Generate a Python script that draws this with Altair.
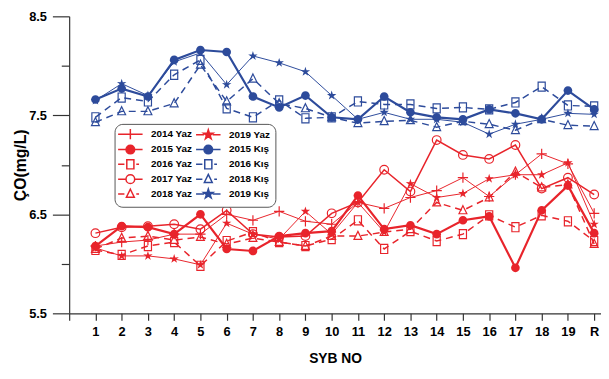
import json
import altair as alt
import pandas as pd

# ---------------- data ----------------
positions = list(range(1, 21))
tick_labels = [str(i) for i in range(1, 20)] + ["R"]
y_ticks = [5.5, 6.0, 6.5, 7.0, 7.5, 8.0, 8.5]

series_names = ["2014 Yaz", "2015 Yaz", "2016 Yaz", "2017 Yaz", "2018 Yaz", "2019 Yaz",
                "2015 Kış", "2016 Kış", "2018 Kış", "2019 Kış"]

yaz_2014 = [6.18, 6.22, 6.24, 6.30, 6.30, 6.50, 6.44, 6.53, 6.43, 6.40, 6.62, 6.56, 6.67, 6.74, 6.87, 6.68, 6.90, 7.11, 7.01, 6.51]
yaz_2015 = [6.18, 6.38, 6.37, 6.30, 6.50, 6.15, 6.13, 6.28, 6.31, 6.33, 6.69, 6.35, 6.39, 6.30, 6.44, 6.48, 5.96, 6.54, 6.79, 6.31]
yaz_2016 = [6.14, 6.09, 6.18, 6.22, 5.98, 6.23, 6.32, 6.22, 6.18, 6.25, 6.44, 6.15, 6.33, 6.23, 6.30, 6.49, 6.37, 6.49, 6.43, 6.23]
yaz_2017 = [6.31, 6.37, 6.38, 6.40, 6.35, 6.54, 6.30, 6.27, 6.28, 6.51, 6.62, 6.95, 6.73, 7.25, 7.10, 7.06, 7.20, 6.76, 6.87, 6.70]
yaz_2018 = [6.15, 6.26, 6.28, 6.24, 6.27, 6.20, 6.26, 6.22, 6.18, 6.28, 6.28, 6.32, 6.35, 6.62, 6.54, 6.67, 6.93, 6.77, 6.80, 6.20]
yaz_2019 = [6.16, 6.08, 6.08, 6.05, 5.99, 6.41, 6.30, 6.25, 6.53, 6.30, 6.62, 6.32, 6.81, 6.67, 6.71, 6.86, 6.90, 6.90, 7.02, 6.40]
kis_2015 = [7.66, 7.77, 7.69, 8.06, 8.16, 8.14, 7.69, 7.58, 7.70, 7.48, 7.46, 7.69, 7.53, 7.48, 7.46, 7.56, 7.52, 7.46, 7.75, 7.56]
kis_2016 = [7.48, 7.68, 7.64, 7.91, 8.06, 7.57, 7.48, 7.65, 7.47, 7.48, 7.64, 7.61, 7.61, 7.57, 7.58, 7.56, 7.63, 7.79, 7.60, 7.59]
kis_2018 = [7.43, 7.54, 7.54, 7.62, 8.01, 7.64, 7.87, 7.62, 7.57, 7.48, 7.42, 7.44, 7.45, 7.38, 7.44, 7.41, 7.35, 7.46, 7.40, 7.39]
kis_2019 = [7.65, 7.82, 7.70, 8.04, 8.13, 7.81, 8.10, 8.03, 7.94, 7.70, 7.46, 7.53, 7.46, 7.46, 7.43, 7.31, 7.41, 7.46, 7.52, 7.51]

series_values = [yaz_2014, yaz_2015, yaz_2016, yaz_2017, yaz_2018, yaz_2019,
                 kis_2015, kis_2016, kis_2018, kis_2019]

rows = []
for name, vals in zip(series_names, series_values):
    for p, v in zip(positions, vals):
        rows.append({"series": name, "pos": p, "value": v})
df = pd.DataFrame(rows)

# ---------------- styles ----------------
RED = "#e8242b"
BLUE = "#2d4b9b"
FONT = "Liberation Sans, Arial, sans-serif"

CIRCLE = "M1.1,0A1.1,1.1,0,1,1,-1.1,0A1.1,1.1,0,1,1,1.1,0Z"
SQUARE = "M-0.9,-1.15H0.9V1.15H-0.9Z"
TRI = "M0,-1.2L1.0,0.85L-1.0,0.85Z"
STAR = ("M0,-1.25L0.28,-0.38L1.19,-0.39L0.45,0.15L0.73,1.01L0,0.48L-0.73,1.01"
        "L-0.45,0.15L-1.19,-0.39L-0.28,-0.38Z")
PLUS = "M-1.3,0H1.3M0,-1.3V1.3"

DASH = [7, 5]
style = {
    "2014 Yaz": dict(color=RED, width=1.0, dash=None, shape=PLUS, filled=False),
    "2015 Yaz": dict(color=RED, width=2.2, dash=None, shape=CIRCLE, filled=True),
    "2016 Yaz": dict(color=RED, width=1.5, dash=DASH, shape=SQUARE, filled=False),
    "2017 Yaz": dict(color=RED, width=1.5, dash=None, shape=CIRCLE, filled=False),
    "2018 Yaz": dict(color=RED, width=1.5, dash=DASH, shape=TRI, filled=False),
    "2019 Yaz": dict(color=RED, width=1.0, dash=None, shape=STAR, filled=True),
    "2015 Kış": dict(color=BLUE, width=2.2, dash=None, shape=CIRCLE, filled=True),
    "2016 Kış": dict(color=BLUE, width=1.5, dash=DASH, shape=SQUARE, filled=False),
    "2018 Kış": dict(color=BLUE, width=1.5, dash=DASH, shape=TRI, filled=False),
    "2019 Kış": dict(color=BLUE, width=1.0, dash=None, shape=STAR, filled=True),
}

x_label_expr = json.dumps([""] + tick_labels) + "[datum.value]"

X = alt.X("pos:Q",
          scale=alt.Scale(domain=[0, 20.26], nice=False, zero=False),
          axis=alt.Axis(values=list(range(0, 21)), labelExpr=x_label_expr, title="SYB NO",
                        grid=False, tickSize=7, labelPadding=5, labelOverlap=False,
                        labelFontSize=13, labelFontWeight="bold", labelFont=FONT,
                        titleFontSize=14, titleFontWeight="bold", titleFont=FONT,
                        titlePadding=14, labelColor="black", titleColor="black"))
Y = alt.Y("value:Q",
          scale=alt.Scale(domain=[5.5, 8.5], nice=False, zero=False),
          axis=alt.Axis(values=y_ticks,
                        labelExpr="datum.value % 1 == 0.5 ? format(datum.value, '.1f') : ''",
                        tickSize={"condition": {"test": "datum.value % 1 == 0.5", "value": 17}, "value": 8},
                        title="ÇO(mg/L)", grid=False, labelPadding=6,
                        labelFontSize=13, labelFontWeight="bold", labelFont=FONT,
                        titleFontSize=16, titleFontWeight="bold", titleFont=FONT,
                        titlePadding=0, labelColor="black", titleColor="black"))

layers = []
for name in series_names:
    s = style[name]
    base = alt.Chart(df).transform_filter(alt.datum.series == name)
    line_kw = dict(color=s["color"], strokeWidth=s["width"])
    if s["dash"]:
        line_kw["strokeDash"] = s["dash"]
    layers.append(base.mark_line(**line_kw).encode(x=X, y=Y))
    layers.append(base.mark_point(shape=s["shape"], size=64, filled=s["filled"],
                                  color=s["color"], strokeWidth=1.2, opacity=1)
                  .encode(x=X, y=Y))

# ---------------- legend (line segment + marker symbols) ----------------
legend_order = series_names  # filled column by column: 5 Yaz entries, then the rest


def legend_path(s):
    if s["shape"] == PLUS:
        seg = "M-3.1,0H3.1"
    elif s["dash"]:
        seg = "M-3.1,0H-1.5M1.5,0H2.2"
    else:
        seg = "M-3.1,0H-1.1M1.1,0H3.1"
    return seg + s["shape"]


legend_paths = [legend_path(style[n]) for n in legend_order]
legend_strokes = [style[n]["color"] for n in legend_order]
legend_fills = [style[n]["color"] if style[n]["filled"] else "white" for n in legend_order]

legend_layer = alt.Chart(df).transform_filter("false").mark_point(size=64, opacity=1).encode(
    x=X, y=Y,
    shape=alt.Shape("series:N", scale=alt.Scale(domain=legend_order, range=legend_paths),
                    legend=alt.Legend(title=None, orient="none", legendX=46, legendY=109,
                                      columns=2, symbolSize=64, symbolStrokeWidth=1.5,
                                      labelFont=FONT, labelFontSize=10, labelFontWeight="bold",
                                      labelColor="black", padding=5, strokeColor="#555555",
                                      cornerRadius=8, fillColor="white", rowPadding=-1,
                                      columnPadding=0, labelOffset=16, symbolOffset=6,
                                      labelLimit=0)),
    stroke=alt.Stroke("series:N", scale=alt.Scale(domain=legend_order, range=legend_strokes)),
    fill=alt.Fill("series:N", scale=alt.Scale(domain=legend_order, range=legend_fills)),
)

chart = alt.layer(*layers, legend_layer).properties(
    width=539, height=301,
    autosize=alt.AutoSizeParams(type="none"),
    padding={"left": 62, "top": 6, "right": 0, "bottom": 56},
).configure_view(stroke=None).configure_axis(
    domainColor="#333333", tickColor="#333333", domainWidth=1.2, tickWidth=1.2
)

chart.save("out.html", embed_options={"renderer": "svg", "actions": False})
